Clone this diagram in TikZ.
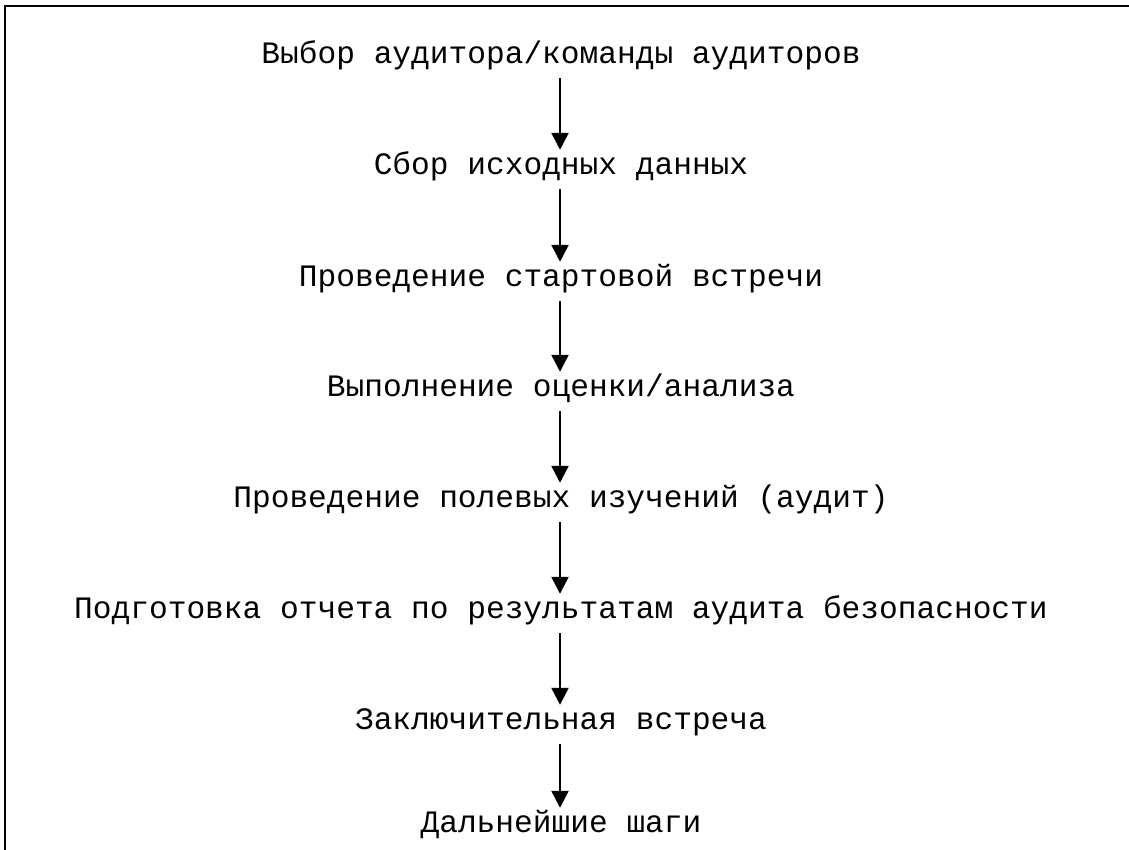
\documentclass[tikz,border=0pt]{standalone}
\usepackage{fontspec}
\setmainfont{Liberation Mono}
\usetikzlibrary{arrows.meta}
\tikzset{
  stage/.style={font=\fontsize{31.2}{36}\selectfont, inner sep=0pt, text height=18pt, text depth=0pt},
  arr/.style={line width=2.4pt, -{Triangle[width=17pt,length=17pt]}},
  frame/.style={line width=2pt}
}
\begin{document}
\begin{tikzpicture}[x=1pt,y=1pt]
\useasboundingbox (0,0) rectangle (1129,850);
\draw[frame] (5,0) -- (5,844) -- (1129,844);
\node[stage] (s1) at (561,795) {Выбор аудитора/команды аудиторов};
\node[stage] (s2) at (561,684) {Сбор исходных данных};
\node[stage] (s3) at (561,572) {Проведение стартовой встречи};
\node[stage] (s4) at (561,462) {Выполнение оценки/анализа};
\node[stage] (s5) at (561,351) {Проведение полевых изучений (аудит)};
\node[stage] (s6) at (561,240) {Подготовка отчета по результатам аудита безопасности};
\node[stage] (s7) at (561,129) {Заключительная встреча};
\node[stage] (s8) at (561,26) {Дальнейшие шаги};
\foreach \a/\b in {s1/s2,s2/s3,s3/s4,s4/s5,s5/s6,s6/s7,s7/s8}
  \draw[arr] ([yshift=-14pt]\a.south -| 560,0) -- ([yshift=7pt]\b.north -| 560,0);
\end{tikzpicture}
\end{document}
